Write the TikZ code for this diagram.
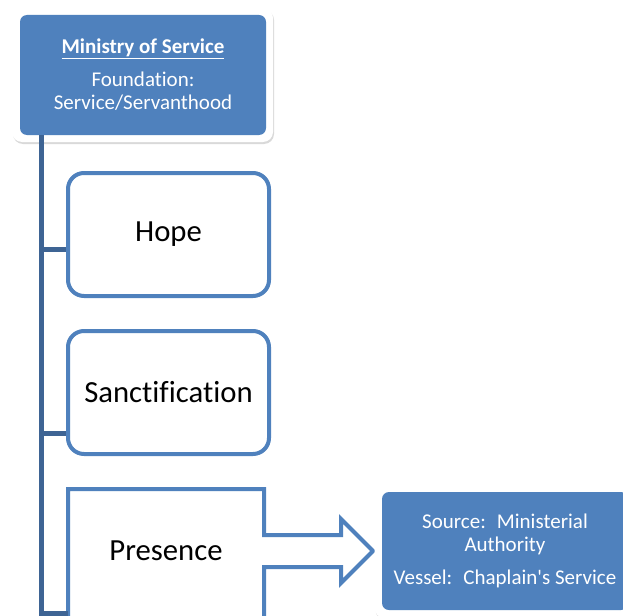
\documentclass[tikz,border=0pt]{standalone}
\usepackage{fontspec}
\setmainfont{Carlito}[Ligatures=NoCommon]
\usetikzlibrary{shadows}
\definecolor{myblue}{RGB}{79,129,189}
\definecolor{mydarkblue}{RGB}{62,100,148}
\tikzstyle{frame}=[fill=white,rounded corners=10pt,minimum width=261pt,minimum height=134pt,inner sep=0pt,drop shadow={opacity=0.3,shadow xshift=1pt,shadow yshift=-2pt}]
\tikzstyle{infobox}=[fill=myblue,text=white,rounded corners=7pt,minimum width=246pt,minimum height=120pt,inner sep=0pt,align=center,font=\fontsize{21}{23}\selectfont]
\tikzstyle{item}=[draw=myblue,line width=4pt,fill=white,rounded corners=16pt,minimum width=201pt,minimum height=123pt,inner sep=0pt,font=\fontsize{30.7}{34}\selectfont]
\tikzstyle{branch}=[draw=mydarkblue,line width=5pt]

\begin{document}
\begin{tikzpicture}[x=1pt,y=-1pt]
\useasboundingbox (0,0) rectangle (623,615);
\clip (0,0) rectangle (623,615);
\coordinate (trunk) at (41,620);
\draw (142.5,75) node [frame] (topframe) {};
\draw (143,75) node [infobox] (top) {\underline{\textbf{Ministry of Service}}\\[10pt]Foundation:\\Service/Servanthood};
\draw[branch] (top.south -| trunk) -- (trunk);
\draw (168.5,234.5) node [item] (hope) {Hope};
\draw (168.5,392.5) node [item] (sanct) {Sanctification};
\draw[draw=myblue,line width=4pt,fill=white,miter limit=10] (68,640) -- (68,489) -- (264,489) -- (264,535) -- (341,535) -- (341,519) -- (373,551) -- (341,583) -- (341,567) -- (264,567) -- (264,640);
\draw (166,551) node [minimum width=196pt,inner sep=0pt,font=\fontsize{30.7}{34}\selectfont] (presence) {Presence};
\coordinate (c1) at (41,249);
\coordinate (c2) at (41,433);
\coordinate (c3) at (41,613);
\draw[branch] (c1) -- (c1 -| hope.west);
\draw[branch] (c2) -- (c2 -| sanct.west);
\draw[branch] (c3) -- (c3 -| presence.west);
\draw (505,551) node [frame] (sourceframe) {};
\draw (505,551) node [infobox,minimum height=118pt] (source) {Source:~ Ministerial\\Authority\\[10pt]Vessel:~ Chaplain\textquotesingle s Service};
\end{tikzpicture}
\end{document}
